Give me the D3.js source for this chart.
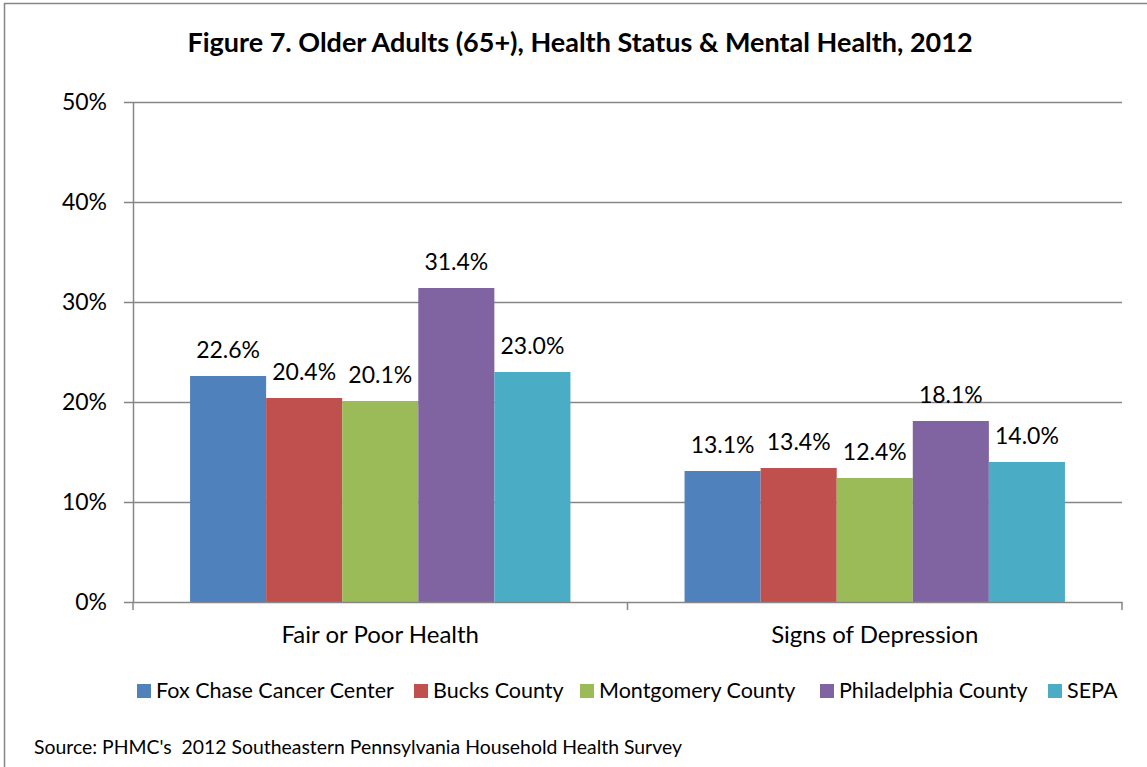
<!DOCTYPE html>
<html><head><meta charset="utf-8">
<script src="https://cdn.jsdelivr.net/npm/d3@7"></script>
<style>body{margin:0;background:#fff;} svg{display:block;}</style>
</head><body>
<svg id="chart" width="1147" height="767"></svg>
<script>
const categories = ["Fair or Poor Health", "Signs of Depression"];
const seriesNames = ["Fox Chase Cancer Center", "Bucks County", "Montgomery County", "Philadelphia County", "SEPA"];
const foxChase = [22.6, 13.1];
const bucks = [20.4, 13.4];
const montgomery = [20.1, 12.4];
const philadelphia = [31.4, 18.1];
const sepa = [23.0, 14.0];
const yTicks = [0, 10, 20, 30, 40, 50];
const colors = ["#4F81BD", "#C0504D", "#9BBB59", "#8064A2", "#4BACC6"];
const seriesValues = [foxChase, bucks, montgomery, philadelphia, sepa];

(function() {
const svg = d3.select("#chart");
const font = "Lato, 'Open Sans', sans-serif";
const axisColor = "#868686";

svg.append("rect").attr("x", 4.5).attr("y", 3.5).attr("width", 1300).attr("height", 900)
  .attr("fill", "none").attr("stroke", axisColor).attr("stroke-width", 1.5);

svg.append("text").attr("x", 580).attr("y", 52).attr("text-anchor", "middle")
  .attr("font-family", font).attr("font-weight", "bold").attr("font-size", 27).attr("fill", "#000")
  .text("Figure 7. Older Adults (65+), Health Status & Mental Health, 2012");

const pLeft = 133, pRight = 1122, pTop = 102, pBottom = 602;
const y = d3.scaleLinear().domain([0, 50]).range([pBottom, pTop]);
const x0 = d3.scaleBand().domain(categories).range([pLeft, pRight]).padding(0);
const groupW = x0.bandwidth() * 5 / 6.5;
const x1 = d3.scaleBand().domain(seriesNames).range([(x0.bandwidth() - groupW) / 2, (x0.bandwidth() + groupW) / 2]).padding(0);

svg.append("g").selectAll("line").data(yTicks.filter(d => d > 0)).join("line")
  .attr("x1", pLeft).attr("x2", pRight).attr("y1", d => Math.round(y(d)) + 0.5).attr("y2", d => Math.round(y(d)) + 0.5)
  .attr("stroke", axisColor).attr("stroke-width", 1.5);

const yAxis = svg.append("g").attr("transform", `translate(${pLeft},0)`)
  .call(d3.axisLeft(y).tickValues(yTicks).tickFormat(d => d + "%").tickSize(9).tickSizeOuter(0));
yAxis.select(".domain").attr("stroke", axisColor).attr("stroke-width", 1.5);
yAxis.selectAll(".tick line").attr("stroke", axisColor).attr("stroke-width", 1.5);
yAxis.selectAll(".tick text").attr("font-family", font).attr("font-size", 23).attr("fill", "#000").attr("x", -26);

const groups = svg.append("g").selectAll("g").data(categories).join("g")
  .attr("transform", d => `translate(${x0(d)},0)`);
groups.each(function(cat, ci) {
  const g = d3.select(this);
  seriesNames.forEach((s, si) => {
    const v = seriesValues[si][ci];
    g.append("rect").attr("x", x1(s)).attr("width", x1.bandwidth())
      .attr("y", y(v)).attr("height", y(0) - y(v)).attr("fill", colors[si]);
    g.append("text").attr("x", x1(s) + x1.bandwidth() / 2).attr("y", y(v) - 18)
      .attr("text-anchor", "middle").attr("font-family", font).attr("font-size", 23).attr("fill", "#000")
      .text(v.toFixed(1) + "%");
  });
});

const xAxis = svg.append("g").attr("transform", `translate(0,${pBottom})`)
  .call(d3.axisBottom(x0).tickSize(0).tickPadding(24));
xAxis.select(".domain").attr("stroke", axisColor).attr("stroke-width", 1.5);
xAxis.selectAll(".tick text").attr("font-family", font).attr("font-size", 24).attr("fill", "#000");
const dividers = [pLeft, x0(categories[1]), pRight];
svg.append("g").selectAll("line").data(dividers).join("line")
  .attr("x1", d => d).attr("x2", d => d).attr("y1", pBottom).attr("y2", pBottom + 8)
  .attr("stroke", axisColor).attr("stroke-width", 1.5);

const legend = svg.append("g");
const legendPositions = [137, 414, 580, 820, 1048];
seriesNames.forEach((s, i) => {
  const gx = legendPositions[i];
  legend.append("rect").attr("x", gx).attr("y", 684).attr("width", 14).attr("height", 14).attr("fill", colors[i]);
  legend.append("text").attr("x", gx + 19).attr("y", 698).attr("font-family", font).attr("font-size", 21.5).attr("fill", "#000").text(s);
});

svg.append("text").attr("x", 34).attr("y", 754).attr("font-family", font).attr("font-size", 19.4).attr("fill", "#000")
  .attr("xml:space", "preserve").style("white-space", "pre")
  .text("Source: PHMC's  2012 Southeastern Pennsylvania Household Health Survey");
})();
</script>
</body></html>
